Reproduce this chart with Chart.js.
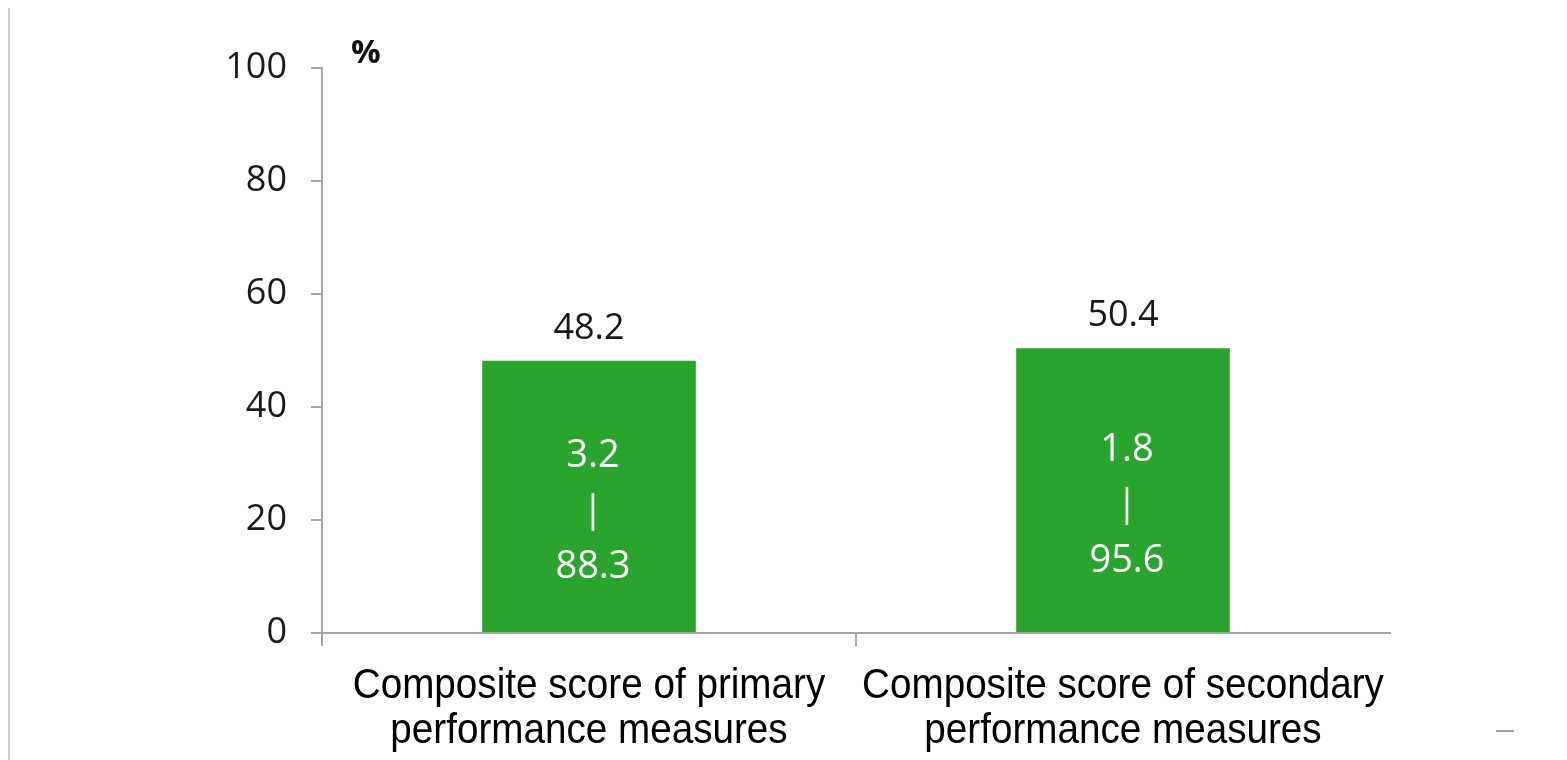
<!DOCTYPE html>
<html>
<head>
<meta charset="utf-8">
<title>Composite scores</title>
<script src="https://cdn.jsdelivr.net/npm/chart.js@4"></script>
<style>
  html, body { margin: 0; padding: 0; background: #fff; }
  #wrap { position: relative; width: 1567px; height: 760px; }
</style>
</head>
<body>
<div id="wrap"><canvas id="scoreChart" width="1567" height="760"></canvas></div>
<script>
// chart data
const categories = [
  ["Composite score of primary", "performance measures"],
  ["Composite score of secondary", "performance measures"]
];
const scores = [48.2, 50.4];
const rangeLow = [3.2, 1.8];
const rangeHigh = [88.3, 95.6];
const yMax = 100;
const yStep = 20;

const barColor = "#29a52e";
const axisColor = "#a6a6a6";
const numFont = "'Open Sans', sans-serif";

// category names under the axis, set in a narrowed sans
const categoryLabels = {
  id: "categoryLabels",
  afterDraw(chart) {
    const ctx = chart.ctx;
    const xScale = chart.scales.x;
    const squeeze = 0.92;
    ctx.save();
    ctx.fillStyle = "#000";
    ctx.font = "42px 'Liberation Sans', Arial, sans-serif";
    ctx.textAlign = "center";
    ctx.textBaseline = "alphabetic";
    categories.forEach((lines, i) => {
      const cx = xScale.getPixelForTick(i);
      lines.forEach((line, j) => {
        ctx.save();
        ctx.translate(cx, 698 + j * 45);
        ctx.scale(squeeze, 1);
        ctx.fillText(line, 0, 0);
        ctx.restore();
      });
    });
    ctx.restore();
  }
};

// value above each bar, range (low | high) inside it, plus the "%" unit and frame marks
const barLabels = {
  id: "barLabels",
  afterDatasetsDraw(chart) {
    const ctx = chart.ctx;
    const meta = chart.getDatasetMeta(0);
    ctx.save();
    ctx.textAlign = "center";
    meta.data.forEach((bar, i) => {
      ctx.fillStyle = "#1a1a1a";
      ctx.font = "36px " + numFont;
      ctx.textBaseline = "alphabetic";
      ctx.fillText(scores[i].toFixed(1), bar.x, bar.y - 22);

      const mid = (bar.y + bar.base) / 2;
      ctx.fillStyle = "#ffffff";
      ctx.font = "38px " + numFont;
      ctx.textBaseline = "middle";
      ctx.fillText(rangeLow[i].toFixed(1), bar.x + 4, mid - 40);
      ctx.fillText("|", bar.x + 4, mid + 15);
      ctx.fillText(rangeHigh[i].toFixed(1), bar.x + 4, mid + 71);
    });

    const area = chart.chartArea;
    ctx.fillStyle = "#111";
    ctx.font = "bold 33px " + numFont;
    ctx.textAlign = "left";
    ctx.textBaseline = "alphabetic";
    ctx.fillText("%", area.left + 29, area.top - 5);

    // thin frame line on the left and short mark at the lower right
    ctx.strokeStyle = "#cfcfcf";
    ctx.lineWidth = 2;
    ctx.beginPath();
    ctx.moveTo(9, 8);
    ctx.lineTo(9, 760);
    ctx.stroke();
    ctx.strokeStyle = "#a0a0a0";
    ctx.beginPath();
    ctx.moveTo(1496, 731);
    ctx.lineTo(1514, 731);
    ctx.stroke();
    ctx.restore();
  }
};

new Chart(document.getElementById("scoreChart"), {
  type: "bar",
  data: {
    labels: categories,
    datasets: [{
      data: scores,
      backgroundColor: barColor,
      borderWidth: 0,
      barPercentage: 0.4,
      categoryPercentage: 1.0
    }]
  },
  options: {
    responsive: false,
    animation: false,
    devicePixelRatio: 1,
    layout: { padding: { top: 68, right: 177, bottom: 0, left: 0 } },
    plugins: {
      legend: { display: false },
      tooltip: { enabled: false }
    },
    scales: {
      x: {
        offset: true,
        afterFit(scale) { scale.height = 127; },
        grid: {
          offset: true,
          drawOnChartArea: false,
          tickLength: 13,
          lineWidth: 2,
          color: (c) => c.type === "tick" ? axisColor : "rgba(0,0,0,0)"
        },
        border: { color: axisColor, width: 2 },
        ticks: { display: false }
      },
      y: {
        min: 0,
        max: yMax,
        afterFit(scale) { scale.width = 322; },
        grid: {
          drawOnChartArea: false,
          tickLength: 11,
          lineWidth: 2,
          color: axisColor
        },
        border: { color: axisColor, width: 2 },
        ticks: {
          stepSize: yStep,
          color: "#1a1a1a",
          padding: 24,
          font: { family: numFont, size: 36 }
        }
      }
    }
  },
  plugins: [barLabels, categoryLabels]
});
</script>
</body>
</html>
